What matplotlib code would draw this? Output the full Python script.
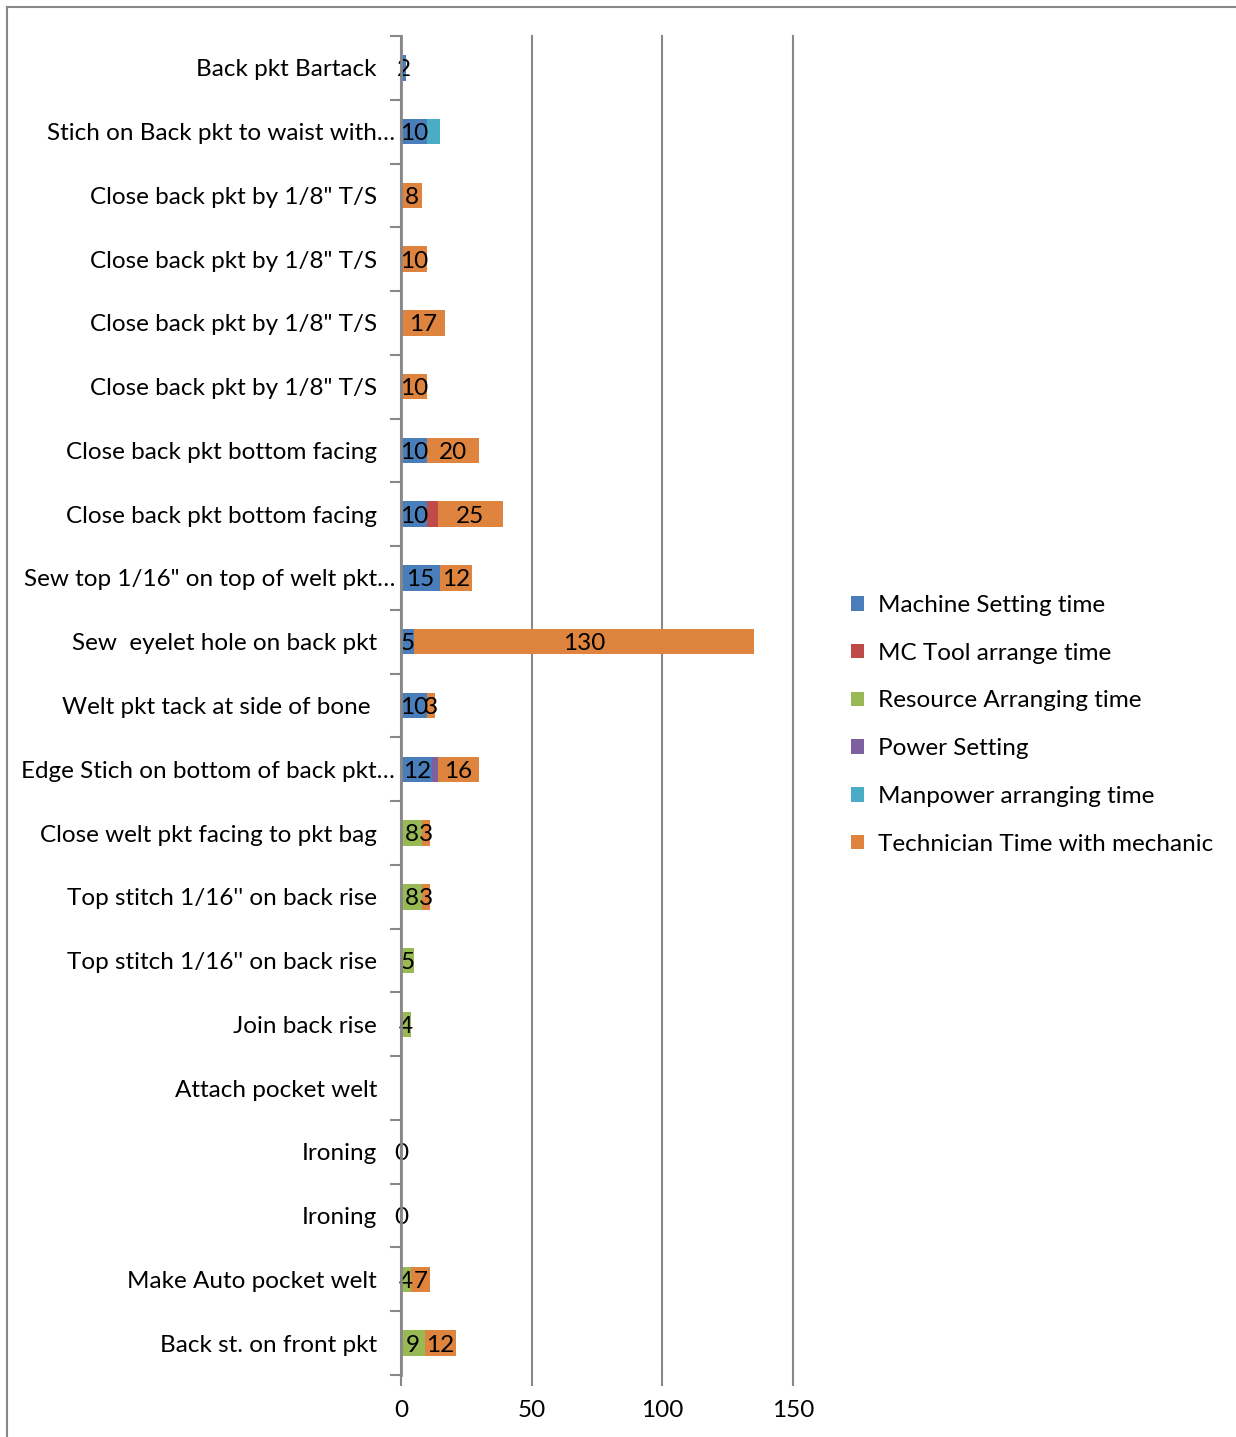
import numpy as np
import matplotlib
matplotlib.use("Agg")
import matplotlib.pyplot as plt
from matplotlib.patches import Patch
from matplotlib.lines import Line2D
import matplotlib.transforms as mtrans

plt.rcParams['font.family'] = ['Lato', 'DejaVu Sans']

# bottom-to-top order (as Excel draws)
categories = [
    "Back st. on front pkt",
    "Make Auto pocket welt",
    "Ironing",
    "Ironing",
    "Attach pocket welt",
    "Join back rise",
    "Top stitch 1/16'' on back rise",
    "Top stitch 1/16'' on back rise",
    "Close welt pkt facing to pkt bag",
    "Edge Stich on bottom of back pkt\u2026",
    "Welt pkt tack at side of bone ",
    "Sew  eyelet hole on back pkt",
    "Sew top 1/16\" on top of welt pkt\u2026",
    "Close back pkt bottom facing",
    "Close back pkt bottom facing",
    "Close back pkt by 1/8\" T/S",
    "Close back pkt by 1/8\" T/S",
    "Close back pkt by 1/8\" T/S",
    "Close back pkt by 1/8\" T/S",
    "Stich on Back pkt to waist with\u2026",
    "Back pkt Bartack",
]
truncated = [c.endswith("\u2026") for c in categories]
trailing = [c.endswith(" ") for c in categories]

N = None
machine_setting = [N, N, N, N, N, N, N, N, N, 12, 10, 5, 15, 10, 10, N, N, N, N, 10, 2]
mc_tool =         [N, N, N, N, N, N, N, N, N, N, N, N, N, 4, N, N, N, N, N, N, N]
resource =        [9, 4, 0, 0, N, 4, 5, 8, 8, N, N, N, N, N, N, N, N, N, N, N, N]
power =           [N, N, N, N, N, N, N, N, N, 2, N, N, N, N, N, N, N, N, N, N, N]
manpower =        [N, N, N, N, N, N, N, N, N, N, N, N, N, N, N, N, N, N, N, 5, N]
technician =      [12, 7, N, N, N, N, N, 3, 3, 16, 3, 130, 12, 25, 20, 10, 17, 10, 8, N, N]

series_names = ["Machine Setting time", "MC Tool arrange time", "Resource Arranging time",
                "Power Setting", "Manpower arranging time", "Technician Time with mechanic"]
series_values = [machine_setting, mc_tool, resource, power, manpower, technician]
series_colors = ["#4A7EBB", "#BE4B48", "#98B954", "#7D60A0", "#4AACC5", "#DE843E"]
series_labeled = [True, False, True, False, False, True]

FS = 17.5
W, H = 1236, 1437
fig = plt.figure(figsize=(W/100, H/100), dpi=100)
ax = fig.add_axes([401/W, 1-1375/H, (793-401)/W, (1375-36)/H])

y = np.arange(len(categories))
left = np.zeros(len(categories))
for name, vals, col, lab in zip(series_names, series_values, series_colors, series_labeled):
    v = np.array([np.nan if a is None else a for a in vals], dtype=float)
    w = np.nan_to_num(v)
    ax.barh(y, w, left=left, height=0.4, color=col, edgecolor='none', zorder=3)
    if lab:
        for i in range(len(v)):
            if not np.isnan(v[i]):
                ax.text(left[i] + w[i]/2, y[i] - 0.03, f"{int(v[i])}", ha='center', va='center',
                        fontsize=FS, color='black', zorder=4)
    left = left + w

ax.set_xlim(0, 150)
ax.set_ylim(-0.5, len(categories)-0.5)
ax.set_xticks([0, 50, 100, 150])
ax.set_xticklabels(["0", "50", "100", "150"], fontsize=FS)
ax.tick_params(axis='x', length=8, width=1.5, color='#888888', pad=10)
ax.set_yticks([])
ax.set_yticks(np.arange(-0.5, len(categories)), minor=True)
ax.tick_params(axis='y', which='minor', length=8, width=1.5, color='#888888')
ax.grid(axis='x', color='#888888', linewidth=1.5, zorder=0)
for gl in ax.get_xgridlines():
    gl.set_clip_on(False)
for s in ['top', 'right', 'bottom']:
    ax.spines[s].set_visible(False)
ax.spines['left'].set_color('#888888')
ax.spines['left'].set_linewidth(2)
ax.spines['left'].set_zorder(5)

for i, (c, t, tr_) in enumerate(zip(categories, truncated, trailing)):
    off = -6 if t else (-30 if tr_ else -24)
    tr = mtrans.offset_copy(ax.get_yaxis_transform(), fig=fig, x=off, y=-2, units='dots')
    ax.text(0, i, c.rstrip(), transform=tr, ha='right', va='center', fontsize=FS, color='black')

handles = [Patch(facecolor=c, edgecolor='none') for c in series_colors]
fig.legend(handles, series_names, loc='upper left', bbox_to_anchor=(851/W, 1-595/H),
           frameon=False, fontsize=FS, handlelength=0.55, handleheight=0.55,
           handletextpad=0.55, labelspacing=1.1, borderaxespad=0, borderpad=0)

# chart area border
fig.add_artist(Line2D([7/W, 7/W], [0, 1-7/H], color='#888888', linewidth=1.5))
fig.add_artist(Line2D([7/W, 1], [1-7/H, 1-7/H], color='#888888', linewidth=1.5))

fig.savefig("out.png", dpi=100)
